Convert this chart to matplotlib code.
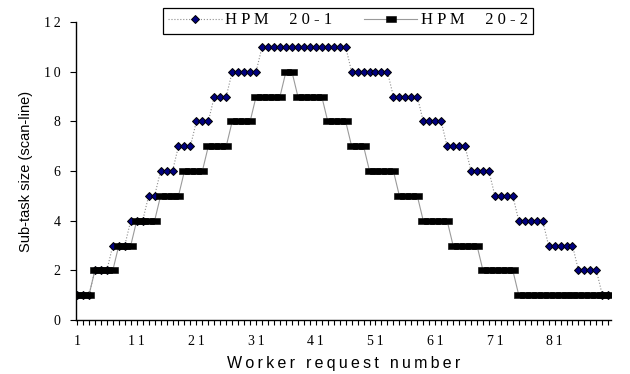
import matplotlib
matplotlib.use('Agg')
import matplotlib.pyplot as plt
from matplotlib.ticker import FixedLocator

# worker request number 1..90
requests = list(range(1, 91))

hpm20_1 = [1, 1, 1, 2, 2, 2, 3, 3, 3, 4, 4, 4, 5, 5, 6, 6, 6, 7, 7, 7,
           8, 8, 8, 9, 9, 9, 10, 10, 10, 10, 10,
           11, 11, 11, 11, 11, 11, 11, 11, 11, 11, 11, 11, 11, 11, 11,
           10, 10, 10, 10, 10, 10, 10, 9, 9, 9, 9, 9, 8, 8, 8, 8,
           7, 7, 7, 7, 6, 6, 6, 6, 5, 5, 5, 5, 4, 4, 4, 4, 4,
           3, 3, 3, 3, 3, 2, 2, 2, 2, 1, 1]

hpm20_2 = [1, 1, 1, 2, 2, 2, 2, 3, 3, 3, 4, 4, 4, 4, 5, 5, 5, 5,
           6, 6, 6, 6, 7, 7, 7, 7, 8, 8, 8, 8, 9, 9, 9, 9, 9, 10, 10,
           9, 9, 9, 9, 9, 8, 8, 8, 8, 7, 7, 7, 6, 6, 6, 6, 6,
           5, 5, 5, 5, 4, 4, 4, 4, 4, 3, 3, 3, 3, 3, 2, 2, 2, 2, 2, 2,
           1, 1, 1, 1, 1, 1, 1, 1, 1, 1, 1, 1, 1, 1, 1, 1]

series_names = ['HPM 20-1', 'HPM 20-2']
x_tick_values = [1, 11, 21, 31, 41, 51, 61, 71, 81]
y_tick_values = [0, 2, 4, 6, 8, 10, 12]

SERIF = ['Liberation Serif', 'DejaVu Serif']
SANS = ['Liberation Sans', 'DejaVu Sans']


def spaced(s, sep='\u2009'):
    # the original text is drawn letter-spaced
    return sep.join(s)


fig = plt.figure(figsize=(6.3, 3.74), dpi=100)
ax = fig.add_axes([76 / 630, 1 - 320 / 374, (611 - 76) / 630, (320 - 22) / 374])

rect = [(-1, -0.74), (1, -0.74), (1, 0.74), (-1, 0.74), (-1, -0.74)]

ax.plot(requests, hpm20_1, linestyle=':', color='#8c8c8c', linewidth=0.8,
        marker='D', markersize=3.8, markerfacecolor='#000080',
        markeredgecolor='black', markeredgewidth=0.7,
        label=spaced(series_names[0].replace(' ', '  '), ' '))
ax.plot(requests, hpm20_2, linestyle='-', color='#9a9a9a', linewidth=0.8,
        marker=rect, markersize=6.6, markerfacecolor='black',
        markeredgecolor='black', markeredgewidth=0.4,
        label=spaced(series_names[1].replace(' ', '  '), ' '))

ax.set_xlim(0.83, 90.45)
ax.set_ylim(0, 12)

ax.spines['top'].set_visible(False)
ax.spines['right'].set_visible(False)
for side in ['left', 'bottom']:
    ax.spines[side].set_linewidth(1.0)

ax.xaxis.set_major_locator(FixedLocator(x_tick_values))
ax.xaxis.set_minor_locator(FixedLocator(requests))
ax.set_xticklabels([spaced(str(v)) for v in x_tick_values],
                   family=SERIF, fontsize=10)
ax.tick_params(axis='x', which='both', direction='out', length=3.5,
               width=0.8, pad=7)

ax.yaxis.set_major_locator(FixedLocator(y_tick_values))
ax.set_yticklabels([spaced(str(v)) for v in y_tick_values],
                   family=SERIF, fontsize=10)
ax.tick_params(axis='y', direction='out', length=4, width=0.8, pad=7)

ax.set_ylabel('Sub-task size (scan-line)', family=SANS, fontsize=10.5,
              labelpad=8)
ax.set_xlabel(spaced('Worker request number'), family=SANS, fontsize=11.5,
              labelpad=6)

leg = fig.legend(loc='center', bbox_to_anchor=(348 / 630, 1 - 20.5 / 374),
                 ncol=2, frameon=True, fancybox=False, edgecolor='black',
                 framealpha=1, handlelength=3.2, handletextpad=0.2,
                 columnspacing=1.9, borderpad=0.3,
                 prop={'family': SERIF, 'size': 12})
leg.get_frame().set_linewidth(0.9)

fig.savefig('out.png', dpi=100)
